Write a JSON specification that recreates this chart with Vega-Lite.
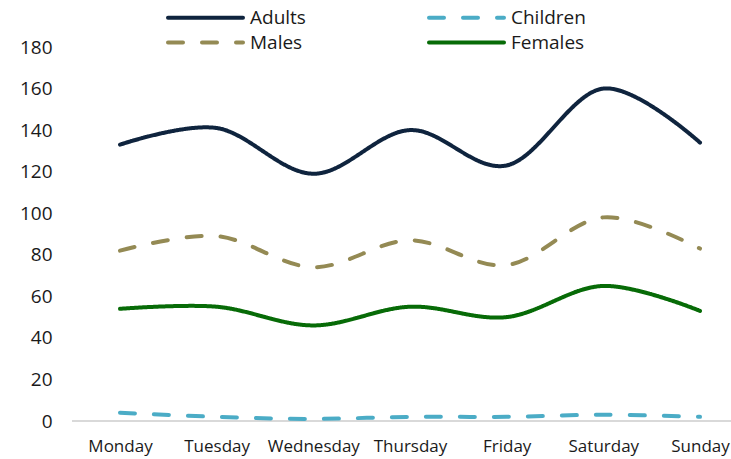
{
  "$schema": "https://vega.github.io/schema/vega-lite/v6.json",
  "width": 659,
  "height": 374,
  "autosize": {"type": "none"},
  "padding": {"left": 72, "top": 47, "right": 0, "bottom": 38},
  "background": "white",
  "config": {
    "view": {"stroke": null},
    "font": "Open Sans"
  },
  "data": {
    "values": [
      {"day": "Monday", "series": "Adults", "value": 133},
      {"day": "Tuesday", "series": "Adults", "value": 141},
      {"day": "Wednesday", "series": "Adults", "value": 119},
      {"day": "Thursday", "series": "Adults", "value": 140},
      {"day": "Friday", "series": "Adults", "value": 123},
      {"day": "Saturday", "series": "Adults", "value": 160},
      {"day": "Sunday", "series": "Adults", "value": 134},
      {"day": "Monday", "series": "Males", "value": 82},
      {"day": "Tuesday", "series": "Males", "value": 89},
      {"day": "Wednesday", "series": "Males", "value": 74},
      {"day": "Thursday", "series": "Males", "value": 87},
      {"day": "Friday", "series": "Males", "value": 75},
      {"day": "Saturday", "series": "Males", "value": 98},
      {"day": "Sunday", "series": "Males", "value": 83},
      {"day": "Monday", "series": "Females", "value": 54},
      {"day": "Tuesday", "series": "Females", "value": 55},
      {"day": "Wednesday", "series": "Females", "value": 46},
      {"day": "Thursday", "series": "Females", "value": 55},
      {"day": "Friday", "series": "Females", "value": 50},
      {"day": "Saturday", "series": "Females", "value": 65},
      {"day": "Sunday", "series": "Females", "value": 53},
      {"day": "Monday", "series": "Children", "value": 4},
      {"day": "Tuesday", "series": "Children", "value": 2},
      {"day": "Wednesday", "series": "Children", "value": 1},
      {"day": "Thursday", "series": "Children", "value": 2},
      {"day": "Friday", "series": "Children", "value": 2},
      {"day": "Saturday", "series": "Children", "value": 3},
      {"day": "Sunday", "series": "Children", "value": 2}
    ]
  },
  "layer": [
    {
      "mark": {"type": "rule", "color": "#d9d9d9", "strokeWidth": 1.5},
      "encoding": {"y": {"datum": 0, "type": "quantitative", "scale": {"domain": [0, 180]}}}
    },
    {
      "mark": {"type": "line", "interpolate": "cardinal", "strokeWidth": 4, "strokeCap": "round"},
      "encoding": {
        "x": {
          "field": "day",
          "type": "ordinal",
          "sort": ["Monday", "Tuesday", "Wednesday", "Thursday", "Friday", "Saturday", "Sunday"],
          "scale": {"type": "point", "range": [48, 628], "padding": 0},
          "axis": {
            "title": null,
            "domain": false,
            "ticks": false,
            "labelAngle": 0,
            "labelPadding": 17,
            "labelFontSize": 17,
            "labelColor": "#1a1a1a",
            "labelFont": "Open Sans"
          }
        },
        "y": {
          "field": "value",
          "type": "quantitative",
          "scale": {"domain": [0, 180]},
          "axis": {
            "title": null,
            "domain": false,
            "ticks": false,
            "grid": false,
            "values": [0, 20, 40, 60, 80, 100, 120, 140, 160, 180],
            "labelPadding": 20,
            "labelFontSize": 19,
            "labelColor": "#1a1a1a",
            "labelFont": "Open Sans"
          }
        },
        "color": {
          "field": "series",
          "type": "nominal",
          "scale": {
            "domain": ["Adults", "Males", "Children", "Females"],
            "range": ["#0f243e", "#948a54", "#4bacc6", "#076b07"]
          },
          "legend": {
            "title": null,
            "orient": "none",
            "legendX": 94,
            "legendY": -44,
            "columns": 2,
            "columnPadding": 115,
            "rowPadding": 0,
            "symbolType": "M-1,0H5",
            "symbolSize": 625,
            "symbolStrokeWidth": 4,
            "labelFontSize": 19,
            "labelColor": "#1a1a1a",
            "labelFont": "Open Sans",
            "labelOffset": 55,
            "encode": {"symbols": {"update": {"strokeCap": {"value": "round"}}}}
          }
        },
        "strokeDash": {
          "field": "series",
          "type": "nominal",
          "scale": {
            "domain": ["Adults", "Males", "Children", "Females"],
            "range": [[1, 0], [15, 19], [15, 19], [1, 0]]
          },
          "legend": null
        }
      }
    }
  ]
}
